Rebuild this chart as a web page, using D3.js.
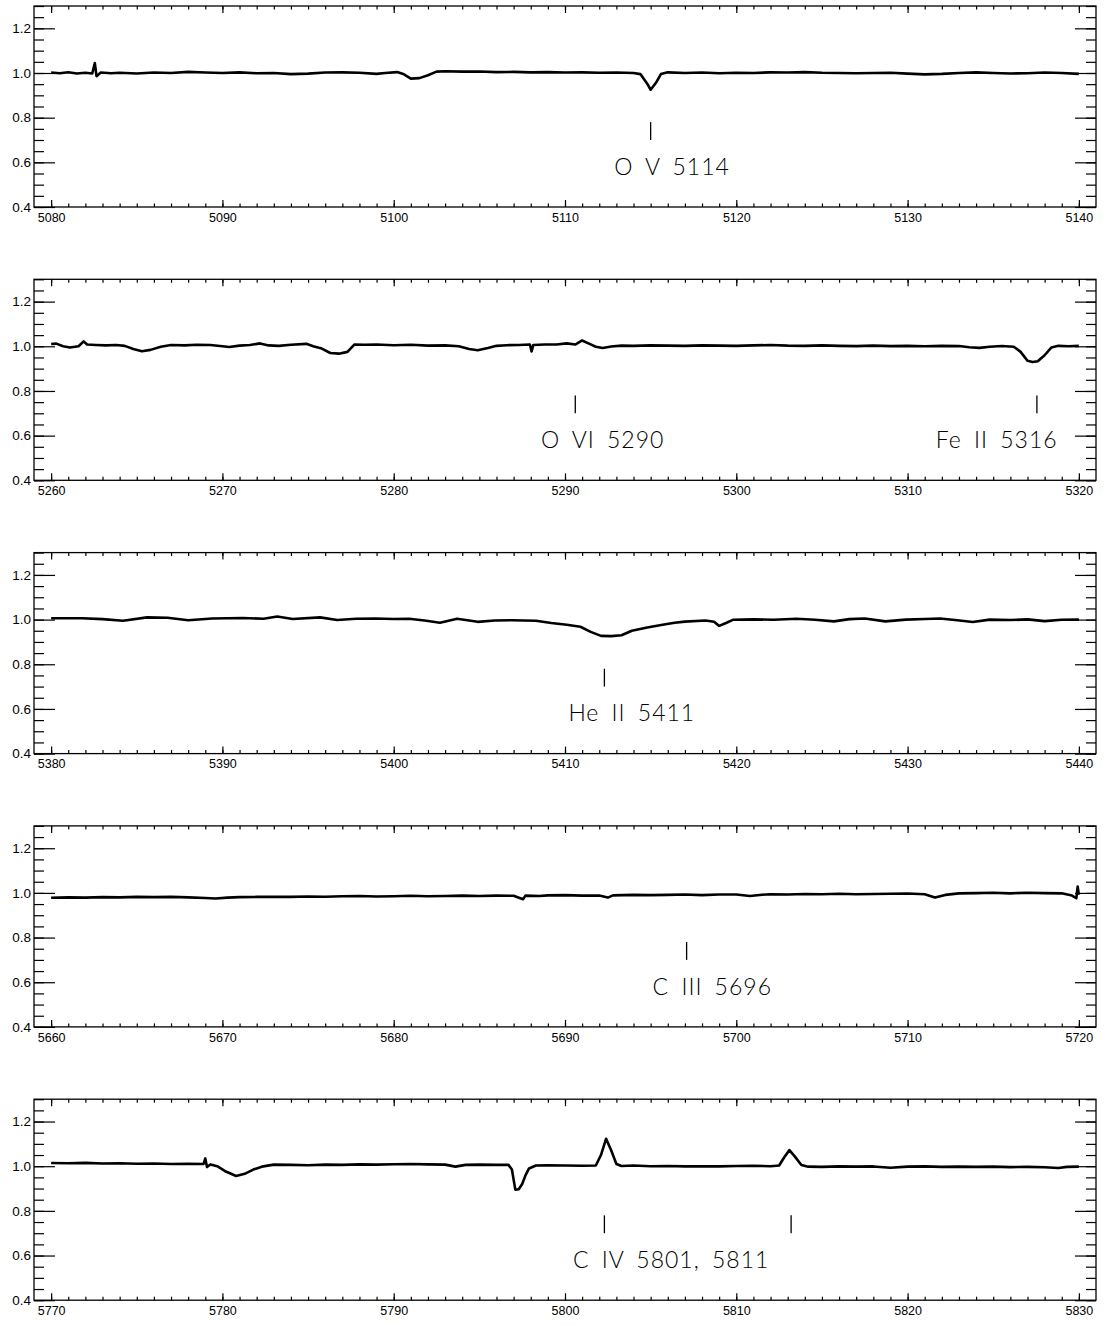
<!DOCTYPE html>
<html>
<head>
<meta charset="utf-8">
<script src="https://cdn.jsdelivr.net/npm/d3@7"></script>
<style>
  body { margin: 0; background: #fff; }
  svg { display: block; }
  .tick text { font-family: "Liberation Sans", Arial, sans-serif; fill: #000; }
  .tick line { stroke: #000; stroke-width: 1.2; }
  .lbl { font-family: Lato, "DejaVu Sans", sans-serif; font-weight: 300; font-size: 23px; fill: #000; }
</style>
</head>
<body>
<svg width="1104" height="1325"></svg>
<script>
// wavelength windows (Angstrom) for the five panels
const ranges = [[5080, 5140], [5260, 5320], [5380, 5440], [5660, 5720], [5770, 5830]];

// normalised flux, [wavelength, flux]
const spec5080 = [
  [5080.0,1.002],[5080.5,0.999],[5081.0,1.003],[5081.5,0.998],[5082.0,1.001],[5082.4,0.998],[5082.55,1.045],[5082.65,0.986],
  [5082.9,1.002],[5083.5,0.999],[5084.0,1.001],[5085,0.998],[5086,1.002],[5087,1.000],[5088,1.005],[5089,1.002],
  [5090,1.000],[5091,1.003],[5092,0.999],[5093,1.000],[5094,0.995],[5095,0.997],[5096,1.002],[5097,1.003],
  [5098,1.001],[5099,0.996],[5099.5,1.000],[5100.2,1.004],[5100.6,0.994],[5101.0,0.975],[5101.5,0.977],[5102.0,0.990],
  [5102.5,1.006],[5103,1.008],[5104,1.006],[5105,1.007],[5106,1.004],[5107,1.005],[5108,1.003],[5109,1.004],
  [5110,1.002],[5111,1.003],[5112,1.001],[5113,1.002],[5114,1.000],[5114.4,0.995],[5114.8,0.952],[5115.0,0.925],
  [5115.3,0.955],[5115.6,0.995],[5116,1.003],[5117,1.000],[5118,1.002],[5119,0.999],[5120,1.001],[5121,1.000],
  [5122,1.003],[5123,1.002],[5124,1.004],[5125,1.001],[5126,1.000],[5127,0.999],[5128,1.000],[5129,1.001],
  [5130,0.997],[5131,0.994],[5132,0.996],[5133,1.000],[5134,1.003],[5135,1.000],[5136,0.998],[5137,0.999],
  [5138,1.002],[5139,1.000],[5140,0.996]
];
const spec5260 = [
  [5260.0,1.010],[5260.3,1.012],[5260.7,1.000],[5261.1,0.995],[5261.6,1.000],[5261.9,1.022],[5262.1,1.008],[5262.6,1.006],
  [5263.2,1.004],[5263.8,1.006],[5264.3,1.002],[5264.8,0.988],[5265.3,0.978],[5265.8,0.984],[5266.4,0.998],[5267.0,1.006],
  [5267.8,1.004],[5268.5,1.007],[5269.3,1.006],[5270.0,1.000],[5270.4,0.997],[5271.0,1.003],[5271.6,1.006],[5272.2,1.013],
  [5272.7,1.004],[5273.3,1.002],[5274.0,1.007],[5274.9,1.011],[5275.3,1.000],[5275.8,0.990],[5276.3,0.970],[5276.8,0.967],
  [5277.3,0.975],[5277.7,1.008],[5278.3,1.007],[5279.0,1.008],[5280.0,1.005],[5281.0,1.007],[5282.0,1.003],[5283.0,1.004],
  [5283.8,1.000],[5284.4,0.988],[5284.9,0.982],[5285.5,0.992],[5286.0,1.002],[5286.6,1.005],[5287.3,1.006],[5287.95,1.008],
  [5288.05,0.977],[5288.15,1.006],[5288.8,1.008],[5289.5,1.008],[5290.1,1.013],[5290.6,1.008],[5291.0,1.026],[5291.4,1.012],
  [5291.8,0.998],[5292.2,0.992],[5292.7,0.999],[5293.3,1.003],[5294,1.002],[5295,1.004],[5296,1.003],[5297,1.002],
  [5298,1.004],[5299,1.003],[5300,1.002],[5301,1.004],[5302,1.006],[5303,1.003],[5304,1.002],[5305,1.004],
  [5306,1.002],[5307,1.001],[5308,1.003],[5309,1.001],[5310,1.002],[5311,1.000],[5312,1.002],[5313,1.001],
  [5313.6,0.996],[5314.2,0.993],[5314.8,0.998],[5315.5,1.001],[5316.2,0.998],[5316.6,0.975],[5317.0,0.935],[5317.3,0.930],
  [5317.6,0.933],[5318.0,0.960],[5318.4,0.995],[5318.8,1.002],[5319.4,1.000],[5320.0,1.002]
];
const spec5380 = [
  [5380.0,1.006],[5381.8,1.006],[5383.0,1.002],[5384.2,0.995],[5385.6,1.010],[5386.8,1.008],[5388.0,0.997],[5389.4,1.005],
  [5391.2,1.007],[5392.4,1.004],[5393.2,1.014],[5394.1,1.003],[5395.7,1.010],[5396.7,0.998],[5397.8,1.004],[5398.9,1.005],
  [5400.0,1.003],[5400.9,1.004],[5401.8,0.996],[5402.7,0.986],[5403.7,1.004],[5404.9,0.990],[5405.9,0.996],[5406.9,0.997],
  [5408.3,0.995],[5409.2,0.985],[5410.1,0.977],[5410.9,0.968],[5411.5,0.945],[5412.1,0.927],[5412.7,0.926],[5413.3,0.930],
  [5413.9,0.950],[5414.8,0.965],[5415.7,0.977],[5416.4,0.986],[5417.0,0.991],[5418.2,0.996],[5418.7,0.990],[5419.0,0.972],
  [5419.4,0.985],[5419.8,0.999],[5421.0,1.001],[5422.2,0.999],[5423.5,1.004],[5424.6,0.999],[5425.7,0.992],[5426.6,1.002],
  [5427.5,1.005],[5428.7,0.992],[5429.9,1.000],[5431.0,1.003],[5431.9,1.005],[5432.9,0.997],[5433.8,0.989],[5434.8,1.000],
  [5436.0,0.998],[5437.0,1.001],[5438.0,0.993],[5439.0,0.999],[5440.0,1.000]
];
const spec5660 = [
  [5660,0.978],[5661,0.980],[5662,0.979],[5663,0.981],[5664,0.980],[5665,0.982],[5666,0.981],[5667,0.982],
  [5668,0.980],[5669,0.977],[5669.6,0.975],[5670.3,0.979],[5671,0.981],[5672,0.982],[5673,0.983],[5674,0.982],
  [5675,0.984],[5676,0.983],[5677,0.985],[5678,0.986],[5679,0.984],[5680,0.985],[5681,0.987],[5682,0.985],
  [5683,0.986],[5684,0.988],[5685,0.986],[5686,0.988],[5687,0.987],[5687.55,0.972],[5687.7,0.988],[5688.5,0.986],
  [5689,0.989],[5690,0.990],[5691,0.988],[5692,0.988],[5692.5,0.979],[5692.8,0.989],[5694,0.991],[5695,0.990],
  [5696,0.991],[5697,0.993],[5698,0.990],[5699,0.993],[5700,0.993],[5700.8,0.986],[5701.5,0.992],[5702,0.994],
  [5703,0.993],[5704,0.995],[5705,0.994],[5706,0.996],[5707,0.994],[5708,0.995],[5709,0.996],[5710,0.997],
  [5711,0.994],[5711.6,0.979],[5712.2,0.991],[5713,0.998],[5714,0.999],[5715,1.001],[5716,0.998],[5717,1.001],
  [5718,0.999],[5719,0.998],[5719.6,0.988],[5719.85,0.976],[5719.93,1.028],[5720,0.992]
];
const spec5770 = [
  [5770,1.014],[5771,1.013],[5772,1.015],[5773,1.012],[5774,1.013],[5775,1.011],[5776,1.012],[5777,1.010],
  [5778,1.011],[5778.9,1.010],[5779.0,1.035],[5779.1,0.996],[5779.3,1.008],[5779.7,1.000],[5780.2,0.976],[5780.8,0.956],
  [5781.3,0.966],[5781.8,0.985],[5782.3,0.998],[5783.0,1.007],[5784,1.006],[5785,1.004],[5786,1.007],[5787,1.006],
  [5788,1.008],[5789,1.007],[5790,1.009],[5791,1.010],[5792,1.008],[5793,1.007],[5793.6,0.998],[5794.2,1.006],
  [5795,1.007],[5796,1.006],[5796.7,1.006],[5796.9,0.985],[5797.1,0.895],[5797.3,0.897],[5797.5,0.920],[5797.7,0.960],
  [5797.9,0.990],[5798.3,1.003],[5799,1.004],[5800,1.003],[5801,1.002],[5801.8,1.003],[5802.1,1.050],[5802.4,1.123],
  [5802.7,1.070],[5803.0,1.010],[5803.3,1.001],[5804,1.003],[5805,1.000],[5806,1.001],[5807,0.999],[5808,1.000],
  [5809,0.999],[5810,1.001],[5811,1.002],[5812,1.000],[5812.5,1.003],[5812.8,1.040],[5813.1,1.072],[5813.4,1.045],
  [5813.8,1.005],[5814.2,0.998],[5815,0.997],[5816,0.999],[5817,0.998],[5818,0.999],[5819,0.993],[5820,0.998],
  [5821,0.999],[5822,0.997],[5823,0.998],[5824,0.997],[5825,0.998],[5826,0.996],[5827,0.997],[5828,0.995],
  [5828.8,0.992],[5829.3,0.997],[5830,0.998]
];
const spectra = [spec5080, spec5260, spec5380, spec5660, spec5770];

// line identifications: text, text centre, marker wavelengths
const labelText = ["O V 5114", "O VI 5290", "Fe II 5316", "He II 5411", "C III 5696", "C IV 5801, 5811"];
const labelPanel = [0, 1, 1, 2, 3, 4];
const labelX = [5116.25, 5292.2, 5315.2, 5413.9, 5698.6, 5806.2];
const markX = [[5115.0], [5290.6], [5317.55], [5412.3], [5697.1], [5802.3, 5813.2]];

const yMajor = [0.4, 0.6, 0.8, 1.0, 1.2];
const yMinor = d3.range(0.4, 1.3001, 0.05);

const svg = d3.select("svg");
svg.append("rect").attr("width", 1104).attr("height", 1325).attr("fill", "#fff");

const left = 34, right = 1096, panelH = 201;

ranges.forEach((r, i) => {
    const top = 6 + i * 273.3;
    const bottom = top + panelH;
    const x = d3.scaleLinear().domain([r[0] - 1, r[1] + 1]).range([left, right]);
    const y = d3.scaleLinear().domain([0.4, 1.3]).range([bottom, top]);
    const g = svg.append("g");

    const xMajor = d3.range(r[0], r[1] + 0.1, 10);
    const xMinor = d3.range(r[0], r[1] + 0.1, 1);

    // bottom axis with labels, ticks pointing inward
    g.append("g").attr("transform", `translate(0,${bottom})`)
        .call(d3.axisBottom(x).tickValues(xMinor).tickFormat("").tickSizeInner(-3.5).tickSizeOuter(0));
    g.append("g").attr("transform", `translate(0,${bottom})`)
        .call(d3.axisBottom(x).tickValues(xMajor).tickFormat(d3.format("d")).tickSizeInner(-7).tickSizeOuter(0).tickPadding(6))
        .call(a => a.selectAll("text").style("font-size", "12.5px"));
    // top axis
    g.append("g").attr("transform", `translate(0,${top})`)
        .call(d3.axisTop(x).tickValues(xMinor).tickFormat("").tickSizeInner(-3.5).tickSizeOuter(0));
    g.append("g").attr("transform", `translate(0,${top})`)
        .call(d3.axisTop(x).tickValues(xMajor).tickFormat("").tickSizeInner(-7).tickSizeOuter(0));

    // left / right axes
    g.append("g").attr("transform", `translate(${left},0)`)
        .call(d3.axisLeft(y).tickValues(yMinor).tickFormat("").tickSizeInner(-10).tickSizeOuter(0));
    g.append("g").attr("transform", `translate(${left},0)`)
        .call(d3.axisLeft(y).tickValues(yMajor).tickFormat(d3.format(".1f")).tickSizeInner(-21).tickSizeOuter(0).tickPadding(3))
        .call(a => a.selectAll("text").style("font-size", "13.5px"));
    g.append("g").attr("transform", `translate(${right},0)`)
        .call(d3.axisRight(y).tickValues(yMinor).tickFormat("").tickSizeInner(-10).tickSizeOuter(0));
    g.append("g").attr("transform", `translate(${right},0)`)
        .call(d3.axisRight(y).tickValues(yMajor).tickFormat("").tickSizeInner(-21).tickSizeOuter(0));

    g.selectAll(".domain").remove();

    g.append("rect")
        .attr("x", left).attr("y", top)
        .attr("width", right - left).attr("height", panelH)
        .attr("fill", "none").attr("stroke", "#000").attr("stroke-width", 1.3);

    const line = d3.line().x(d => x(d[0])).y(d => y(d[1]));
    g.append("path")
        .datum(spectra[i])
        .attr("d", line)
        .attr("fill", "none")
        .attr("stroke", "#000")
        .attr("stroke-width", 2.6)
        .attr("stroke-linejoin", "round");

    // identifications
    labelText.forEach((t, k) => {
        if (labelPanel[k] !== i) return;
        markX[k].forEach(m => {
            g.append("line")
                .attr("x1", x(m)).attr("x2", x(m))
                .attr("y1", y(0.78)).attr("y2", y(0.70))
                .attr("stroke", "#000").attr("stroke-width", 1.3);
        });
        g.append("text")
            .attr("class", "lbl")
            .attr("x", x(labelX[k]))
            .attr("y", y(0.545))
            .attr("text-anchor", "middle")
            .attr("word-spacing", "5px")
            .attr("letter-spacing", "1px")
            .text(t);
    });
});
</script>
</body>
</html>
